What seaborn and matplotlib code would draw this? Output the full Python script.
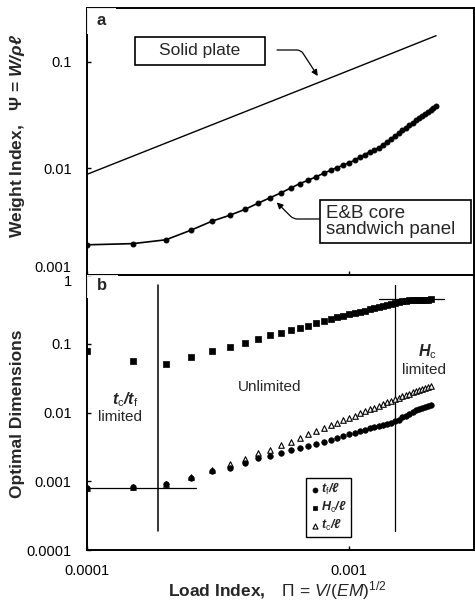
import pandas as pd
import matplotlib.pyplot as plt
import seaborn as sns
from matplotlib.patches import Rectangle
from matplotlib.ticker import FixedLocator, FixedFormatter, NullLocator

# =========================
# DATA
# =========================
load_index = [1.0e-4, 1.5e-4, 2.0e-4, 2.5e-4, 3.0e-4, 3.5e-4, 4.0e-4, 4.5e-4,
              5.0e-4, 5.5e-4, 6.0e-4, 6.5e-4, 7.0e-4, 7.5e-4, 8.0e-4, 8.5e-4,
              9.0e-4, 9.5e-4, 1.0e-3, 1.05e-3, 1.1e-3, 1.15e-3, 1.2e-3, 1.25e-3,
              1.3e-3, 1.35e-3, 1.4e-3, 1.45e-3, 1.5e-3, 1.55e-3, 1.6e-3, 1.65e-3,
              1.7e-3, 1.75e-3, 1.8e-3, 1.85e-3, 1.9e-3, 1.95e-3, 2.0e-3, 2.05e-3,
              2.1e-3, 2.15e-3]

# panel a: weight index of the E&B core sandwich panel
sandwich_weight = [0.00192, 0.00197, 0.00214, 0.00264, 0.00320, 0.00363, 0.00412,
                   0.00472, 0.00531, 0.00590, 0.00656, 0.00721, 0.00776, 0.00836,
                   0.00900, 0.00959, 0.0102, 0.0107, 0.0113, 0.0119, 0.0128, 0.0135,
                   0.0143, 0.0149, 0.0157, 0.0166, 0.0178, 0.0190, 0.0203, 0.0215,
                   0.0227, 0.0240, 0.0253, 0.0268, 0.0283, 0.0296, 0.0309, 0.0323,
                   0.0338, 0.0353, 0.0365, 0.0382]

# panel a: solid plate
plate_index = [1.0e-4, 5.0e-4, 1.0e-3, 2.15e-3]
plate_weight = [0.0088, 0.0422, 0.083, 0.176]

# panel b: optimal dimensions (first 40 load values)
face_thickness = [0.00079, 0.00082, 0.00091, 0.00113, 0.00140, 0.00154, 0.00182,
                  0.00215, 0.00230, 0.00255, 0.00281, 0.00301, 0.00321, 0.00345,
                  0.0037, 0.0040, 0.0043, 0.0046, 0.0048, 0.0050, 0.0053, 0.0056,
                  0.0059, 0.0061, 0.0064, 0.0066, 0.0069, 0.0071, 0.0074, 0.0079,
                  0.0085, 0.0090, 0.0096, 0.0101, 0.0107, 0.0112, 0.0117, 0.0121,
                  0.0125, 0.0129]
core_height = [0.079, 0.057, 0.051, 0.065, 0.079, 0.090, 0.103, 0.118, 0.135,
               0.144, 0.160, 0.171, 0.182, 0.200, 0.215, 0.230, 0.246, 0.255,
               0.270, 0.280, 0.290, 0.303, 0.316, 0.330, 0.344, 0.355, 0.367,
               0.378, 0.390, 0.400, 0.413, 0.420, 0.427, 0.430, 0.434, 0.437,
               0.440, 0.440, 0.440, 0.445]
core_thickness = [0.00079, 0.00082, 0.00091, 0.00116, 0.00145, 0.00180, 0.00208,
                  0.00255, 0.00281, 0.00332, 0.00367, 0.00420, 0.00480, 0.00531,
                  0.00596, 0.00654, 0.0071, 0.0077, 0.0083, 0.0090, 0.0097, 0.0104,
                  0.0111, 0.0117, 0.0124, 0.0132, 0.0140, 0.0149, 0.0157, 0.0164,
                  0.0171, 0.0180, 0.0188, 0.0196, 0.0204, 0.0214, 0.0223, 0.0230,
                  0.0238, 0.0246]

# regime boundaries
tc_tf_limit = 1.87e-4
hc_limit = 1.5e-3
tf_floor = 0.0008
hc_ceiling = 0.45

top = pd.DataFrame({"load": load_index, "weight": sandwich_weight})
bottom = pd.DataFrame({
    "load": load_index[:40],
    "tf": face_thickness,
    "hc": core_height,
    "tc": core_thickness,
})

# =========================
# STYLE
# =========================
sns.set_theme(style="ticks")
plt.rcParams["font.family"] = ["Liberation Sans", "DejaVu Sans"]
plt.rcParams["mathtext.fontset"] = "custom"
plt.rcParams["mathtext.rm"] = "Liberation Sans"
plt.rcParams["mathtext.it"] = "Liberation Sans:italic"
plt.rcParams["mathtext.bf"] = "Liberation Sans:bold"
plt.rcParams["mathtext.bfit"] = "Liberation Sans:italic:bold"

fig = plt.figure(figsize=(4.75, 6.01), dpi=100)
W, H = 475, 601
ax1 = fig.add_axes([87 / W, 1 - 275 / H, 387 / W, 267 / H])
ax2 = fig.add_axes([87 / W, 1 - 550 / H, 387 / W, 275 / H])

for ax in (ax1, ax2):
    ax.set_xscale("log")
    ax.set_yscale("log")
    ax.set_xlim(1e-4, 3e-3)
    for sp in ax.spines.values():
        sp.set_linewidth(1.4)
        sp.set_color("black")
    ax.tick_params(direction="in", length=3, width=1, labelsize=10.5,
                   colors="black", pad=11)
    ax.xaxis.set_minor_locator(NullLocator())
    ax.yaxis.set_minor_locator(NullLocator())

# =========================
# PANEL a
# =========================
sns.lineplot(x=plate_index, y=plate_weight, color="black", linewidth=1.0, ax=ax1)
sns.lineplot(data=top, x="load", y="weight", color="black", linewidth=1.2,
             marker="o", markersize=3.5, markeredgecolor="black", ax=ax1)

ax1.set_ylim(0.001, 0.32)
ax1.yaxis.set_major_locator(FixedLocator([0.001, 0.01, 0.1]))
ax1.yaxis.set_major_formatter(FixedFormatter(["0.001", "0.01", "0.1"]))
ax1.tick_params(axis="x", labelbottom=False)
ax1.get_yticklabels()[0].set_va("bottom")
ax1.set_xlabel("")
ax1.set_ylabel(r"Weight Index,   Ψ = $\mathbfit{W/\rho\ell}$",
               fontsize=12.5, fontweight="bold")
ax1.yaxis.set_label_coords(-0.155, 0.52)

# panel letter
ax1.add_patch(Rectangle((0, 1 - 25 / 267), 28 / 387, 25 / 267,
                        transform=ax1.transAxes, fill=False, lw=1.3, zorder=5))
ax1.text(14 / 387, 1 - 12.5 / 267, "a", transform=ax1.transAxes,
         ha="center", va="center", fontsize=12, fontweight="bold")

# Solid plate label
ax1.add_patch(Rectangle((48 / 387, 210 / 267), 130 / 387, 28 / 267,
                        transform=ax1.transAxes, facecolor="white",
                        edgecolor="black", lw=1.2, zorder=5))
ax1.text(113 / 387, 224 / 267, "Solid plate", transform=ax1.transAxes,
         ha="center", va="center", fontsize=12.5, zorder=6)
ax1.annotate("", xy=(7.6e-4, 0.0736), xycoords="data",
             xytext=(190 / 387, 225 / 267), textcoords="axes fraction",
             arrowprops=dict(arrowstyle="-|>", color="black", lw=0.9,
                             shrinkA=0, shrinkB=0, mutation_scale=9,
                             connectionstyle="angle,angleA=0,angleB=123,rad=4"))

# E&B label
ax1.add_patch(Rectangle((233 / 387, 32 / 267), 151 / 387, 43 / 267,
                        transform=ax1.transAxes, facecolor="white",
                        edgecolor="black", lw=1.2, zorder=5))
ax1.text(239 / 387, 53.5 / 267, "E&B core\nsandwich panel", transform=ax1.transAxes,
         ha="left", va="center", fontsize=13.5, linespacing=1.0, zorder=6)
ax1.annotate("", xy=(5.3e-4, 0.0048), xycoords="data",
             xytext=(233 / 387, 56 / 267), textcoords="axes fraction",
             arrowprops=dict(arrowstyle="-|>", color="black", lw=0.9,
                             shrinkA=0, shrinkB=0, mutation_scale=9,
                             connectionstyle="angle,angleA=0,angleB=-45,rad=4"))

# =========================
# PANEL b
# =========================
sns.scatterplot(data=bottom, x="load", y="tf", marker="o", s=16, color="black",
                edgecolor="black", linewidth=0.5, label=r"$\mathbfit{t}_{\mathrm{f}}\mathbfit{/\ell}$",
                ax=ax2, zorder=4)
sns.scatterplot(data=bottom, x="load", y="hc", marker="s", s=15, color="black",
                edgecolor="black", linewidth=0.5, label=r"$\mathbfit{H}_{\mathrm{c}}\mathbfit{/\ell}$",
                ax=ax2, zorder=4)
sns.scatterplot(data=bottom, x="load", y="tc", marker="^", s=16, color="white",
                edgecolor="black", linewidth=0.8, label=r"$\mathbfit{t}_{\mathrm{c}}\mathbfit{/\ell}$",
                ax=ax2, zorder=3)

ax2.plot([tc_tf_limit, tc_tf_limit], [1.9e-4, 0.72], color="black", lw=1.1)
ax2.plot([hc_limit, hc_limit], [1.9e-4, 0.72], color="black", lw=0.9)
ax2.plot([1e-4, 2.6e-4], [tf_floor, tf_floor], color="black", lw=0.9)
ax2.plot([1.3e-3, 2.3e-3], [hc_ceiling, hc_ceiling], color="black", lw=0.9)

ax2.set_ylim(1e-4, 1)
ax2.yaxis.set_major_locator(FixedLocator([1e-4, 1e-3, 1e-2, 0.1, 1]))
ax2.yaxis.set_major_formatter(FixedFormatter(["0.0001", "0.001", "0.01", "0.1", "1"]))
ax2.xaxis.set_major_locator(FixedLocator([1e-4, 1e-3]))
ax2.xaxis.set_major_formatter(FixedFormatter(["0.0001", "0.001"]))
ax2.tick_params(axis="x", pad=10)
ax2.get_yticklabels()[-1].set_va("top")

ax2.set_ylabel("Optimal Dimensions", fontsize=12.5, fontweight="bold")
ax2.yaxis.set_label_coords(-0.16, 0.496)
ax2.set_xlabel(r"$\mathbf{Load\ Index,}$   Π = $\mathit{V/(EM)}^{1/2}$",
               fontsize=12.5)
ax2.xaxis.set_label_coords(0.492, -0.105)

ax2.add_patch(Rectangle((0, 1 - 22 / 275), 30 / 387, 22 / 275,
                        transform=ax2.transAxes, fill=False, lw=1.3, zorder=5))
ax2.text(15 / 387, 1 - 11 / 275, "b", transform=ax2.transAxes,
         ha="center", va="center", fontsize=12, fontweight="bold")

ax2.text(0.098, 0.545, r"$\mathbfit{t}_{\mathrm{c}}\mathbfit{/t}_{\mathrm{f}}$",
         transform=ax2.transAxes, ha="center", va="center", fontsize=11.5)
ax2.text(0.085, 0.484, "limited", transform=ax2.transAxes,
         ha="center", va="center", fontsize=11)
ax2.text(0.473, 0.593, "Unlimited", transform=ax2.transAxes,
         ha="center", va="center", fontsize=11)
ax2.text(0.879, 0.72, r"$\mathbfit{H}_{\mathrm{c}}$", transform=ax2.transAxes,
         ha="center", va="center", fontsize=11.5)
ax2.text(0.871, 0.655, "limited", transform=ax2.transAxes,
         ha="center", va="center", fontsize=11)

ax2.legend(loc="lower left", bbox_to_anchor=(0.566, 0.047), borderaxespad=0,
           frameon=True, fancybox=False, edgecolor="black", framealpha=1,
           fontsize=9, handletextpad=0.1, handlelength=0.8, borderpad=0.3,
           labelspacing=0.15, markerscale=0.9)

plt.savefig("out.png", dpi=100)
plt.close()
